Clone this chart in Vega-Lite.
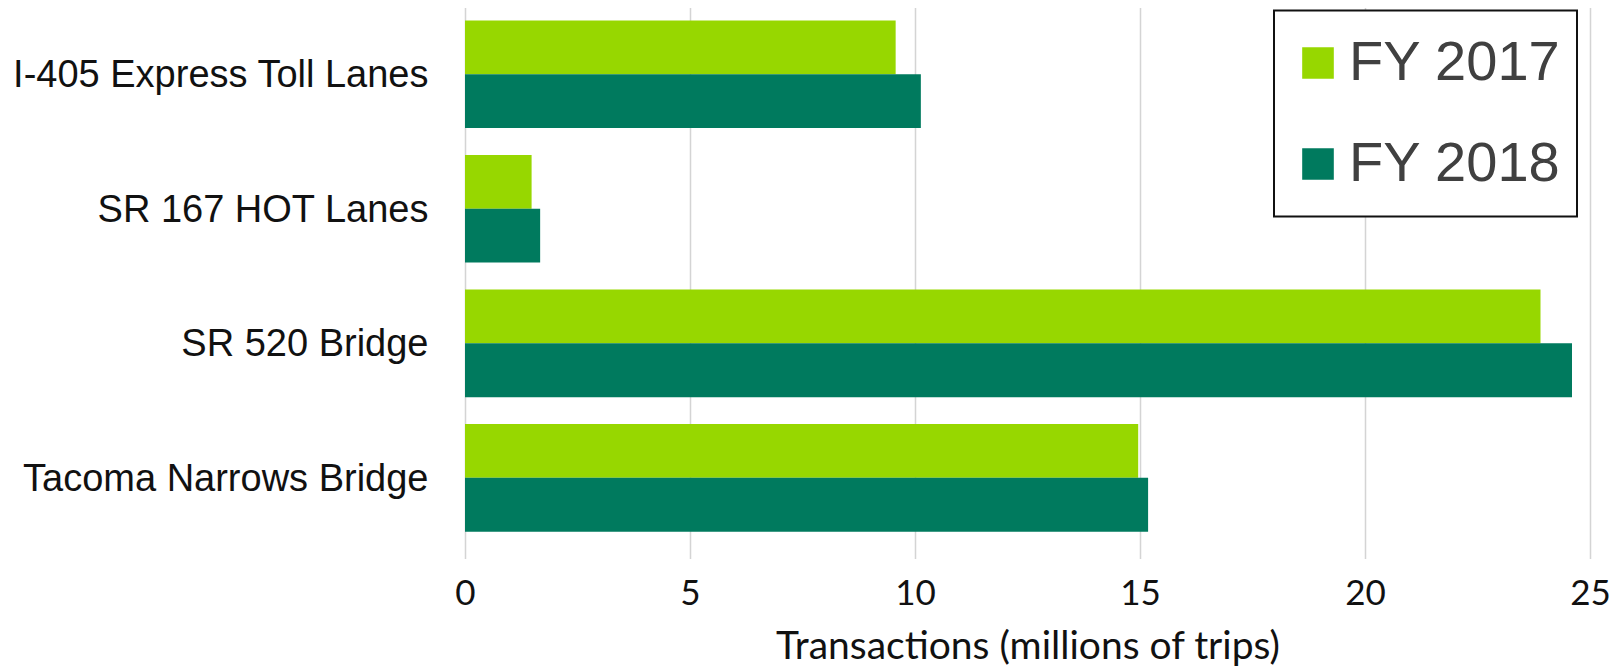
{
  "$schema": "https://vega.github.io/schema/vega-lite/v6.json",
  "autosize": {"type": "none"},
  "width": 1125,
  "height": 551,
  "padding": {"left": 465, "top": 7.5, "right": 27, "bottom": 107.5},
  "background": "white",
  "data": {
    "values": [
      {"facility": "I-405 Express Toll Lanes", "year": "FY 2017", "value": 9.57},
      {"facility": "I-405 Express Toll Lanes", "year": "FY 2018", "value": 10.13},
      {"facility": "SR 167 HOT Lanes", "year": "FY 2017", "value": 1.48},
      {"facility": "SR 167 HOT Lanes", "year": "FY 2018", "value": 1.67},
      {"facility": "SR 520 Bridge", "year": "FY 2017", "value": 23.9},
      {"facility": "SR 520 Bridge", "year": "FY 2018", "value": 24.6},
      {"facility": "Tacoma Narrows Bridge", "year": "FY 2017", "value": 14.96},
      {"facility": "Tacoma Narrows Bridge", "year": "FY 2018", "value": 15.18}
    ]
  },
  "mark": {"type": "bar"},
  "encoding": {
    "y": {
      "field": "facility",
      "type": "nominal",
      "sort": ["I-405 Express Toll Lanes", "SR 167 HOT Lanes", "SR 520 Bridge", "Tacoma Narrows Bridge"],
      "scale": {"paddingInner": 0.2, "paddingOuter": 0.148, "align": 0.326},
      "axis": {
        "title": null,
        "ticks": false,
        "tickSize": 0,
        "domain": false,
        "labelPadding": 37,
        "labelOffset": 2,
        "labelFont": "Liberation Sans",
        "labelFontSize": 38,
        "labelColor": "#111111",
        "labelLimit": 600
      }
    },
    "yOffset": {"field": "year", "type": "nominal", "scale": {"paddingInner": 0, "paddingOuter": 0}},
    "x": {
      "field": "value",
      "type": "quantitative",
      "scale": {"domain": [0, 25], "nice": false},
      "axis": {
        "title": "Transactions (millions of trips)",
        "values": [0, 5, 10, 15, 20, 25],
        "ticks": false,
        "tickSize": 0,
        "domain": false,
        "grid": true,
        "gridColor": "#d4d4d4",
        "gridWidth": 1.5,
        "labelFlush": false,
        "labelPadding": 18,
        "labelFont": "Lato",
        "labelFontSize": 35,
        "labelColor": "#111111",
        "titleFont": "Lato",
        "titleFontSize": 39,
        "titleFontWeight": "normal",
        "titleColor": "#111111",
        "titlePadding": 16
      }
    },
    "color": {
      "field": "year",
      "type": "nominal",
      "scale": {"domain": ["FY 2017", "FY 2018"], "range": ["#97D700", "#007A5E"]},
      "legend": {
        "title": null,
        "orient": "none",
        "legendX": 809,
        "legendY": 3,
        "direction": "vertical",
        "symbolType": "square",
        "symbolSize": 1000,
        "symbolStrokeWidth": 0,
        "labelFont": "Liberation Sans",
        "labelFontSize": 56,
        "labelColor": "#404040",
        "labelOffset": 3,
        "labelLimit": 600,
        "clipHeight": 73,
        "rowPadding": 28,
        "padding": 16,
        "strokeColor": "#111111",
        "fillColor": "white"
      }
    }
  },
  "config": {"view": {"stroke": null}, "legend": {"strokeWidth": 2}}
}
